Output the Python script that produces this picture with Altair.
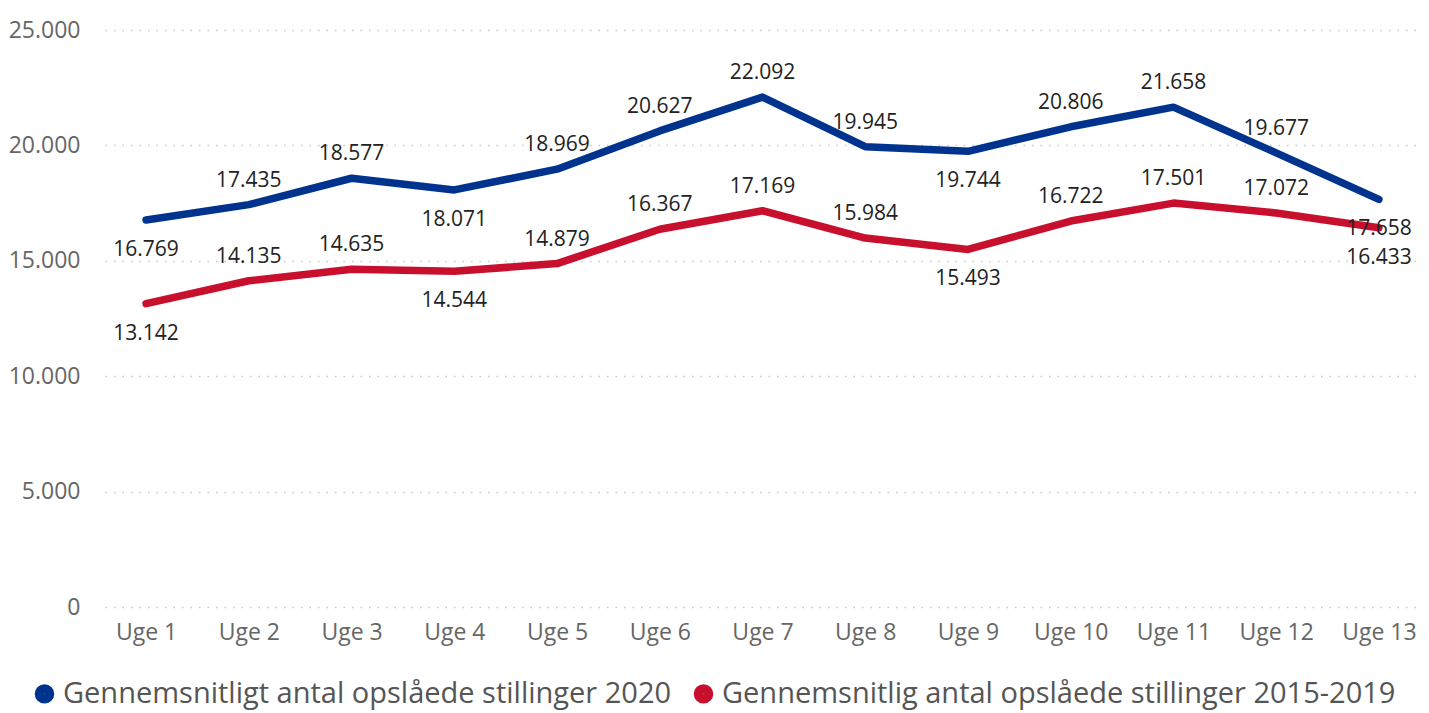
import altair as alt
import pandas as pd

weeks = [f"Uge {i}" for i in range(1, 14)]
series_2020 = "Gennemsnitligt antal opslåede stillinger 2020"
series_hist = "Gennemsnitlig antal opslåede stillinger 2015-2019"
values_2020 = [16769, 17435, 18577, 18071, 18969, 20627, 22092, 19945, 19744, 20806, 21658, 19677, 17658]
values_hist = [13142, 14135, 14635, 14544, 14879, 16367, 17169, 15984, 15493, 16722, 17501, 17072, 16433]
pos_2020 = ["below", "above", "above", "below", "above", "above", "above", "above", "below", "above", "above", "above", "below"]
pos_hist = ["below", "above", "above", "below", "above", "above", "above", "above", "below", "above", "above", "above", "below"]

rows = []
for w, v, p in zip(weeks, values_2020, pos_2020):
    rows.append({"week": w, "value": v, "series": series_2020, "pos": p})
for w, v, p in zip(weeks, values_hist, pos_hist):
    rows.append({"week": w, "value": v, "series": series_hist, "pos": p})
df = pd.DataFrame(rows)

FONT = "Open Sans"
colors = ["#00338D", "#C8102E"]

x = alt.X("week:N", sort=weeks, scale=alt.Scale(type="point", padding=0.4),
          axis=alt.Axis(title=None, labelAngle=0, labelFontSize=23, labelColor="#666666",
                        labelFont=FONT, ticks=False, domain=False, labelPadding=14, grid=False))
y = alt.Y("value:Q", scale=alt.Scale(domain=[0, 25000], nice=False),
          axis=alt.Axis(title=None, values=[0, 5000, 10000, 15000, 20000, 25000],
                        labelExpr="replace(format(datum.value, ','), ',', '.')",
                        labelFontSize=23, labelColor="#666666", labelFont=FONT,
                        ticks=False, domain=False, labelPadding=25,
                        gridColor="#c8c8c8", gridDash=[1.5, 7], gridWidth=1.5))
color = alt.Color("series:N", sort=[series_2020, series_hist],
                  scale=alt.Scale(domain=[series_2020, series_hist], range=colors),
                  legend=alt.Legend(title=None, orient="none", direction="horizontal",
                                    legendX=-75, legendY=649, symbolType="circle",
                                    symbolSize=90, symbolStrokeWidth=10, labelFontSize=29,
                                    labelFont=FONT, labelColor="#555555", labelLimit=0,
                                    columnPadding=6, labelOffset=4))

base = alt.Chart(df)
lines = base.mark_line(strokeWidth=7.5, strokeCap="round", strokeJoin="round").encode(
    x=x, y=y, color=color)

lab = base.transform_calculate(label="replace(format(datum.value, ','), ',', '.')")
above = lab.transform_filter(alt.datum.pos == "above").mark_text(
    dy=-24, fontSize=21, font=FONT, color="#222222").encode(
    x=alt.X("week:N", sort=weeks), y="value:Q", text="label:N")
below = lab.transform_filter(alt.datum.pos == "below").mark_text(
    dy=30, fontSize=21, font=FONT, color="#222222").encode(
    x=alt.X("week:N", sort=weeks), y="value:Q", text="label:N")

chart = alt.layer(lines, above, below).properties(
    width=1315, height=577,
    autosize=alt.AutoSizeParams(type="none"),
    padding={"left": 97, "top": 22, "right": 1, "bottom": 106},
).configure_view(stroke=None)

chart.save("out.html", embed_options={"renderer": "svg", "actions": False})
